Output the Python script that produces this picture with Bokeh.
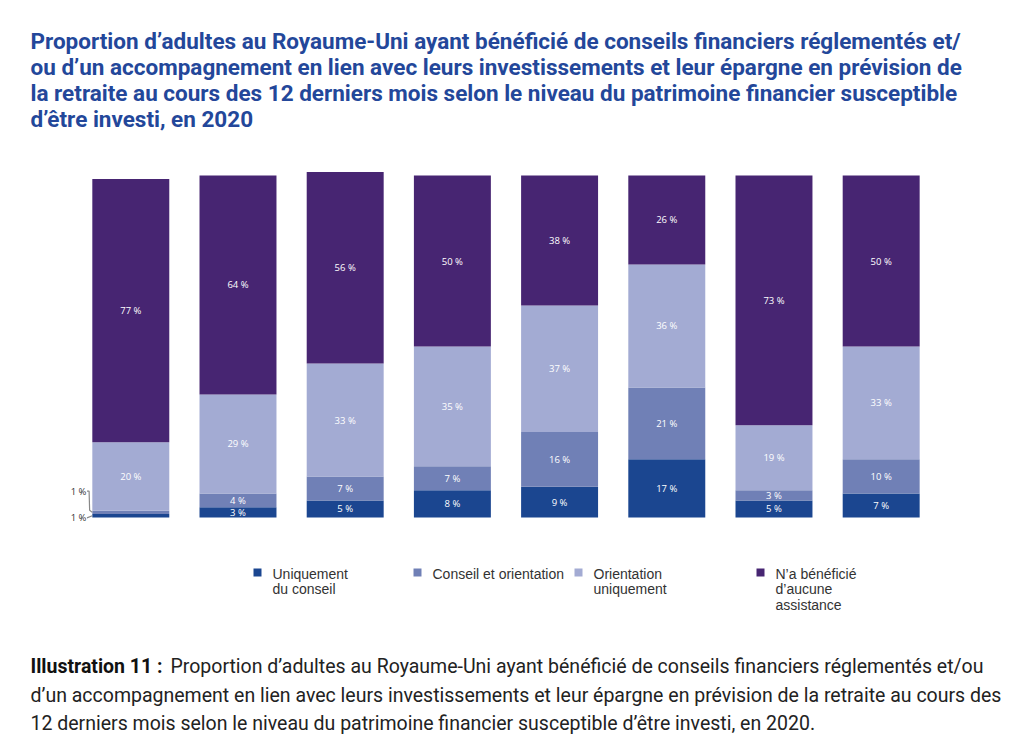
from bokeh.plotting import figure
from bokeh.models import Range1d, ColumnDataSource, LabelSet, Label, BoxAnnotation
from bokeh.embed import file_html
from bokeh.resources import INLINE
from bokeh.core.properties import value

# ---- data -------------------------------------------------------------
groups = [0, 1, 2, 3, 4, 5, 6, 7]          # wealth bands (unlabelled in the source)
conseil_seul = [1, 3, 5, 8, 9, 17, 5, 7]
conseil_orientation = [1, 4, 7, 7, 16, 21, 3, 10]
orientation_seule = [20, 29, 33, 35, 37, 36, 19, 33]
aucune = [77, 64, 56, 50, 38, 26, 73, 50]

series_labels = ["Uniquement\ndu conseil", "Conseil et orientation",
                 "Orientation\nuniquement", "N’a bénéficié\nd’aucune\nassistance"]
colors = ["#1b4690", "#7080b6", "#a3abd3", "#472572"]

title_lines = [
    "Proportion d’adultes au Royaume-Uni ayant bénéficié de conseils financiers réglementés et/",
    "ou d’un accompagnement en lien avec leurs investissements et leur épargne en prévision de",
    "la retraite au cours des 12 derniers mois selon le niveau du patrimoine financier susceptible",
    "d’être investi, en 2020",
]
caption_bold = "Illustration 11 :"
caption_lines = [
    "Proportion d’adultes au Royaume-Uni ayant bénéficié de conseils financiers réglementés et/ou",
    "d’un accompagnement en lien avec leurs investissements et leur épargne en prévision de la retraite au cours des",
    "12 derniers mois selon le niveau du patrimoine financier susceptible d’être investi, en 2020.",
]

W, H = 1024, 756
series = [conseil_seul, conseil_orientation, orientation_seule, aucune]
keys = ["s0", "s1", "s2", "s3"]

p = figure(width=W, height=H, output_backend="svg", toolbar_location=None,
           x_range=Range1d(-1.2155, 8.337), y_range=Range1d(-69.88, 151.17),
           min_border=0, min_border_left=0, min_border_right=0,
           min_border_top=0, min_border_bottom=0)
p.axis.visible = False
p.grid.visible = False
p.outline_line_color = None
p.background_fill_color = "white"
p.border_fill_color = "white"

data = {"x": groups}
for k, s in zip(keys, series):
    data[k] = s
src = ColumnDataSource(data)
bar_w = 0.718
p.vbar_stack(keys, x="x", width=bar_w, color=colors, source=src, line_color=None)

# value labels
lx, ly, lt = [], [], []
ox, oy, ot = [], [], []
for i in range(len(groups)):
    base = 0
    for s in series:
        v = s[i]
        mid = base + v / 2
        if v >= 3:
            lx.append(groups[i]); ly.append(mid); lt.append(f"{v} %")
        else:
            ox.append(groups[i]); oy.append(mid); ot.append(f"{v} %")
        base += v
p.add_layout(LabelSet(x="x", y="y", text="t",
                      source=ColumnDataSource(dict(x=lx, y=ly, t=lt)),
                      text_align="center", text_baseline="middle",
                      text_color="white", text_font=value("Open Sans"),
                      text_font_size="9.5px"))

# small values outside bar 1 with leader lines
out_y = [oy[0] - 0.6, oy[1] + 6.2]
p.add_layout(LabelSet(x="x", y="y", text="t",
                      source=ColumnDataSource(dict(x=[g - bar_w / 2 - 0.055 for g in ox], y=out_y, t=ot)),
                      text_align="right", text_baseline="middle",
                      text_color="#333333", text_font=value("Open Sans"),
                      text_font_size="9.5px"))
left_edge = ox[0] - bar_w / 2
p.line([left_edge - 0.05, left_edge], [out_y[0], oy[0]], line_color="#888888", line_width=1.2)
p.line([left_edge - 0.05, left_edge - 0.03, left_edge - 0.025, left_edge],
       [out_y[1], out_y[1], oy[1] + 0.6, oy[1]], line_color="#888888", line_width=1.2)

# title
for j, line in enumerate(title_lines):
    p.add_layout(Label(x=30, y=H - 40 - j * 26, x_units="screen", y_units="screen",
                       text=line, text_font="Roboto", text_font_style="bold",
                       text_font_size="22.5px", text_color="#23479a", text_baseline="middle"))

# legend
leg_x = [253, 413, 574, 756]
for c, lab, xx in zip(colors, series_labels, leg_x):
    p.add_layout(BoxAnnotation(left=xx, right=xx + 8, bottom=H - 576, top=H - 568,
                               left_units="screen", right_units="screen",
                               bottom_units="screen", top_units="screen",
                               fill_color=c, fill_alpha=1, line_color=None))
    p.add_layout(Label(x=xx + 19, y=H - 565, x_units="screen", y_units="screen",
                       text=lab, text_font="Liberation Sans", text_font_size="14px",
                       text_color="#333333", text_baseline="top", text_line_height=0.98))

# caption
p.add_layout(Label(x=30, y=H - 666, x_units="screen", y_units="screen",
                   text=caption_bold, text_font="Roboto", text_font_style="bold",
                   text_font_size="19.5px", text_color="#111111", text_baseline="middle"))
for j, line in enumerate(caption_lines):
    p.add_layout(Label(x=170 if j == 0 else 30, y=H - 666 - j * 28.5,
                       x_units="screen", y_units="screen",
                       text=line, text_font="Roboto",
                       text_font_size="19.5px", text_color="#222222", text_baseline="middle"))

open("out.html", "w").write(file_html(p, INLINE))
